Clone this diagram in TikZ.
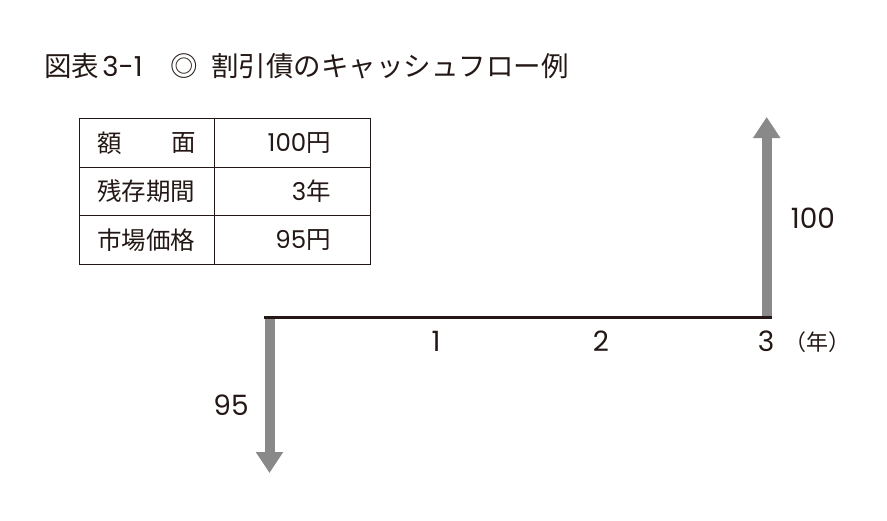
\documentclass[tikz,border=0pt]{standalone}
\usepackage{fontspec}
\setmainfont{Noto Sans CJK JP}
\newfontfamily\dig{Poppins}
\usetikzlibrary{arrows.meta}
\definecolor{ink}{HTML}{231815}
\definecolor{flow}{HTML}{898989}
\tikzset{
  title/.style={anchor=west,inner sep=0pt,font=\fontsize{27.5}{30}\selectfont,text=ink},
  cell/.style={inner sep=0pt,font=\fontsize{24.5}{26}\selectfont,text=ink},
  lbl/.style={inner sep=0pt,font=\fontsize{28}{30}\selectfont\dig,text=ink},
  grid/.style={draw=ink,line width=1pt},
  cash/.style={draw=flow,line width=10pt,-{Triangle[width=26pt,length=21pt]}},
  axis/.style={draw=ink,line width=3pt}
}
\begin{document}
\begin{tikzpicture}[x=1pt,y=-1pt]
\useasboundingbox (0,0) rectangle (887,520);
% title
\node[title] (ttl) at (44,66) {図表\hspace{0.12em}{\dig 3-1}\hspace{1em}◎\hspace{0.5em}割引債のキャッシュフロー例};
% table
\draw[grid] (79,118) rectangle (370,264);
\draw[grid] (214,118) -- (214,264);
\draw[grid] (79,167) -- (370,167);
\draw[grid] (79,215) -- (370,215);
\node[cell,anchor=west] (a1) at (97,143) {額};
\node[cell,anchor=east] (a2) at (196,143) {面};
\node[cell,anchor=west] (b1) at (97,191) {残存期間};
\node[cell,anchor=west] (c1) at (97,240) {市場価格};
\node[cell,anchor=east] (a3) at (331,143) {{\dig 100}円};
\node[cell,anchor=east] (b3) at (331,191) {{\dig 3}年};
\node[cell,anchor=east] (c3) at (331,240) {{\dig 95}円};
% cash flow
\coordinate (o) at (269.5,317);
\coordinate (dn) at (269.5,473);
\coordinate (e) at (766.7,317);
\coordinate (up) at (766.7,117);
\coordinate (ls) at (264,317);
\coordinate (le) at (771.7,317);
\draw[cash] (o) -- (dn);
\draw[cash] (e) -- (up);
\draw[axis] (ls) -- (le);
\node[lbl] (t1) at (436,341) {1};
\node[lbl] (t2) at (601,341) {2};
\node[lbl] (t3) at (766,341) {3};
\node[inner sep=0pt,anchor=west,font=\fontsize{22}{24}\selectfont,text=ink] (yr) at (784,342) {（年）};
\node[lbl] (v100) at (813,218) {100};
\node[lbl] (v95) at (231,405) {95};
\end{tikzpicture}
\end{document}
